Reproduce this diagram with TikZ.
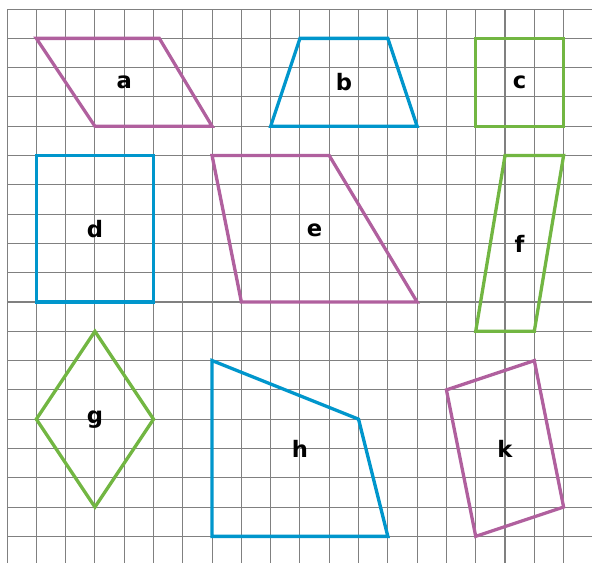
\documentclass[tikz,border=0pt]{standalone}
\usepackage{fontspec}
\setmainfont{DejaVu Sans}
\usepackage{tikz}
\definecolor{shapepurple}{RGB}{176,96,158}
\definecolor{shapeblue}{RGB}{0,150,204}
\definecolor{shapegreen}{RGB}{114,182,66}
\tikzset{
gridline/.style={ % Sets the look of the squared paper
draw=gray, line width=1pt},
figure/.style={ % Sets the properties for each shape
line width=3.2pt, line join=miter},
letter/.style={ % Label inside each shape
font=\bfseries\fontsize{22}{26}\selectfont, inner sep=0pt}}

\begin{document}
\begin{tikzpicture}[y=-1cm]
\useasboundingbox (-0.24,-0.31) rectangle (19.97,18.91);
\foreach \c in {0,...,19}
	\draw[gridline] (\c,0) -- (\c,18.91);
\foreach \r in {0,...,18}
	\draw[gridline] (0,\r) -- (19.97,\r);
% top row
\draw[figure, shapepurple] (1,1) -- (5.2,1) -- (7,4) -- (3,4) -- cycle;
\draw[figure, shapeblue] (10,1) -- (13,1) -- (14,4) -- (9,4) -- cycle;
\draw[figure, shapegreen] (16,1) rectangle (19,4);
% middle row
\draw[figure, shapeblue] (1,5) rectangle (5,10);
\draw[figure, shapepurple] (7,5) -- (11,5) -- (14,10) -- (8,10) -- cycle;
\draw[figure, shapegreen] (17,5) -- (19,5) -- (18,11) -- (16,11) -- cycle;
% bottom row
\draw[figure, shapegreen] (3,11) -- (5,14) -- (3,17) -- (1,14) -- cycle;
\draw[figure, shapeblue] (7,12) -- (12,14) -- (13,18) -- (7,18) -- cycle;
\draw[figure, shapepurple] (15,13) -- (18,12) -- (19,17) -- (16,18) -- cycle;
% labels
\node[letter] (la) at (4,2.5) {a};
\node[letter] (lb) at (11.5,2.5) {b};
\node[letter] (lc) at (17.5,2.5) {c};
\node[letter] (ld) at (3,7.5) {d};
\node[letter] (le) at (10.5,7.55) {e};
\node[letter] (lf) at (17.5,8) {f};
\node[letter] (lg) at (3,14) {g};
\node[letter] (lh) at (10,15) {h};
\node[letter] (lk) at (17,15) {k};
\end{tikzpicture}
\end{document}
